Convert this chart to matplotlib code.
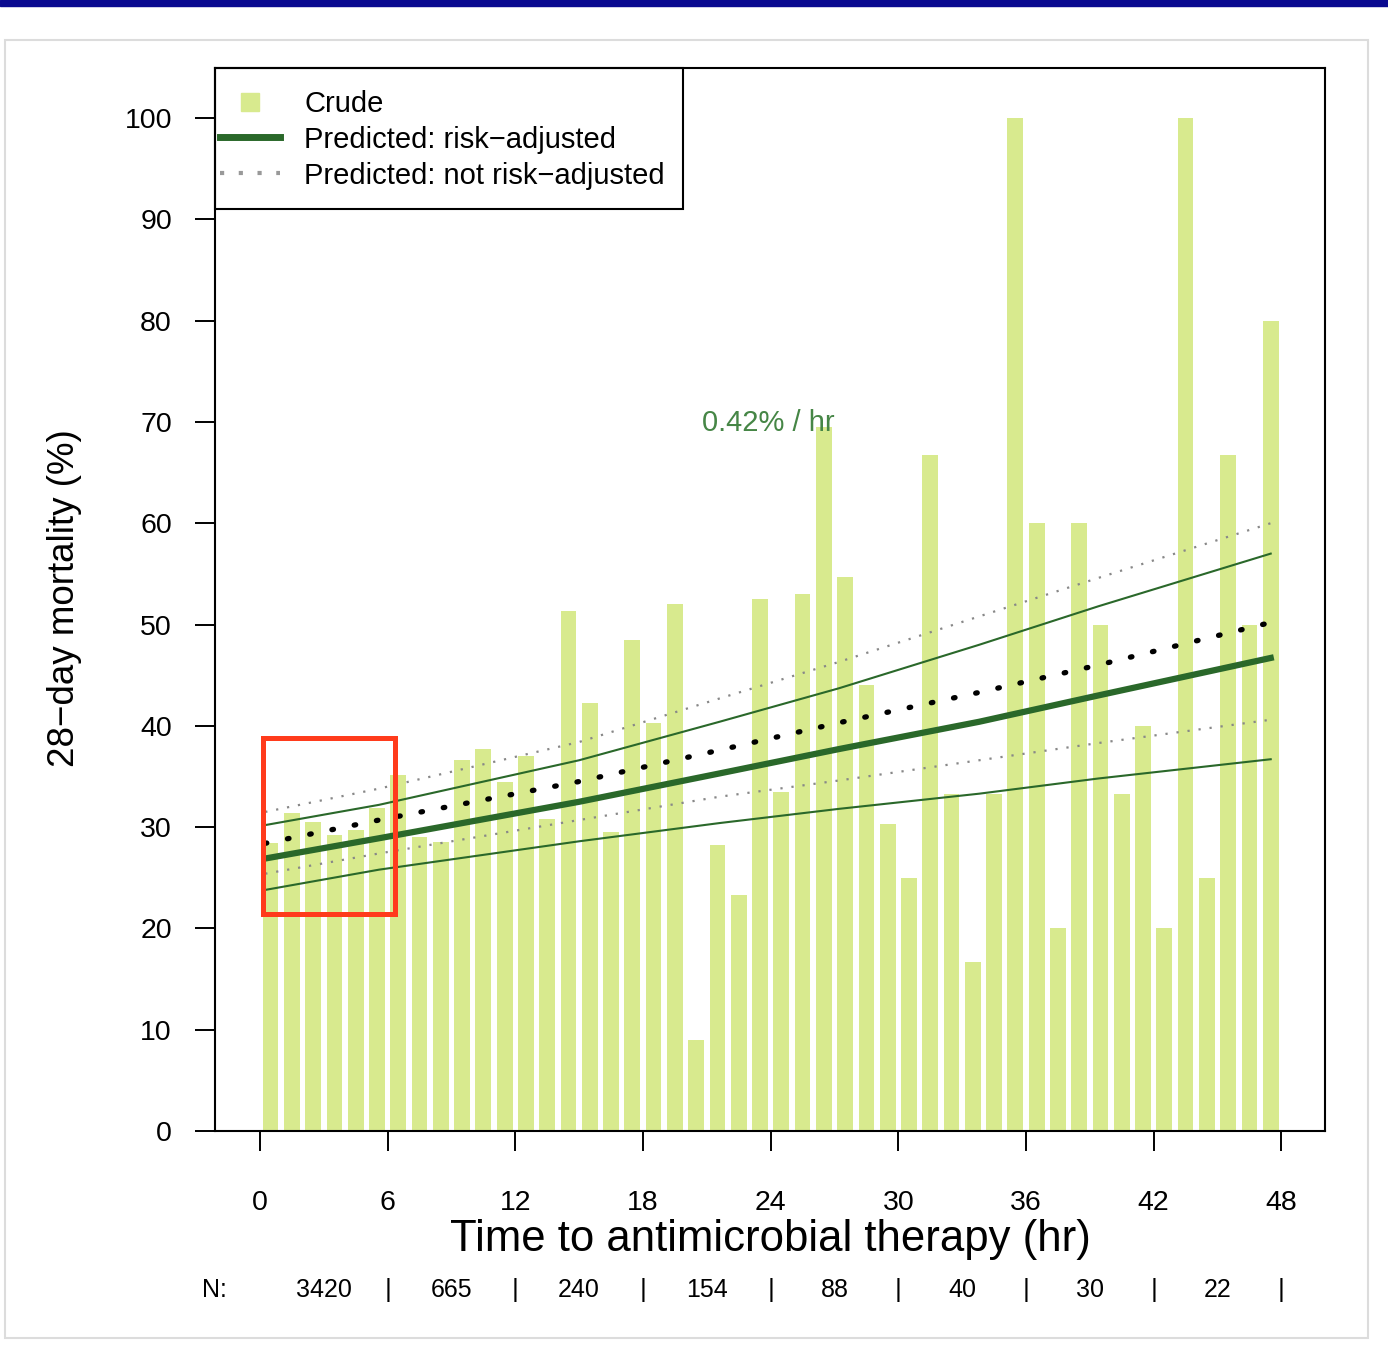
import numpy as np
import matplotlib
matplotlib.use('Agg')
import matplotlib.pyplot as plt
from matplotlib.lines import Line2D
from matplotlib.patches import Rectangle
from matplotlib.transforms import blended_transform_factory

plt.rcParams['font.family'] = ['Liberation Sans', 'DejaVu Sans']

# crude 28-day mortality (%) per 1-hour bin, 0-48 h
bin_mid = np.arange(0.5, 48, 1)
crude = [28.4, 31.4, 30.5, 29.2, 29.7, 31.9, 35.1, 29.0, 28.5, 36.6,
         37.7, 34.5, 37.0, 30.8, 51.3, 42.3, 29.5, 48.5, 40.3, 52.0,
         9.0, 28.2, 23.3, 52.5, 33.5, 53.0, 69.5, 54.7, 44.0, 30.3,
         25.0, 66.7, 33.3, 16.7, 33.3, 100.0, 60.0, 20.0, 60.0, 50.0,
         33.3, 40.0, 20.0, 100.0, 25.0, 66.7, 50.0, 80.0]

# predicted curves (read at a few hours)
fit_hours = [0.25, 5.6, 15.0, 21.6, 27.2, 33.8, 39.4, 47.5]
adj_est = [26.9, 28.9, 32.5, 35.3, 37.7, 40.4, 43.0, 46.7]
adj_lo = [23.8, 25.8, 28.6, 30.4, 31.8, 33.3, 34.8, 36.7]
adj_hi = [30.2, 32.2, 36.6, 40.4, 43.7, 48.0, 51.8, 57.0]
unadj_est = [28.4, 30.7, 34.5, 37.6, 40.3, 43.3, 46.0, 50.2]
unadj_lo = [25.4, 27.4, 30.7, 33.0, 34.6, 36.6, 38.3, 40.6]
unadj_hi = [31.5, 33.8, 38.4, 42.7, 46.3, 50.8, 54.6, 60.0]

# patients per 6-hour window
n_edges = [0, 6, 12, 18, 24, 30, 36, 42, 48]
n_counts = ['3420', '665', '240', '154', '88', '40', '30', '22']

bar_color = '#d8ea8e'
dark_green = '#2a682a'

fig = plt.figure(figsize=(13.88, 13.69), dpi=100)
ax = fig.add_axes([0.1549, 0.17385, 0.7997, 0.77648])

ax.bar(bin_mid, crude, width=0.74, color=bar_color, zorder=1)

# not risk-adjusted (dotted)
ax.plot(fit_hours, unadj_hi, color='#888888', lw=1.6, ls=(0, (1, 4)), zorder=3)
ax.plot(fit_hours, unadj_lo, color='#888888', lw=1.6, ls=(0, (1, 4)), zorder=3)
ax.plot(fit_hours, unadj_est, color='black', lw=3.8, ls=(0, (0.3, 4.0)),
        dash_capstyle='round', zorder=4)

# risk-adjusted (solid)
ax.plot(fit_hours, adj_hi, color=dark_green, lw=1.5, zorder=3)
ax.plot(fit_hours, adj_lo, color=dark_green, lw=1.5, zorder=3)
ax.plot(fit_hours, adj_est, color=dark_green, lw=4.5, zorder=4)

ax.text(23.9, 69.9, '0.42% / hr', color='#468646', fontsize=21,
        ha='center', va='center', zorder=5)

# red highlight box
ax.add_patch(Rectangle((0.14, 21.4), 6.19, 17.4, fill=False, edgecolor='#ff3b1c',
                       lw=3.6, zorder=6, clip_on=False))

ax.set_xlim(-2.11, 50.05)
ax.set_ylim(0, 104.94)
ax.set_xticks(n_edges)
ax.set_yticks(range(0, 101, 10))
ax.tick_params(axis='both', direction='out', length=14.5, width=1.4,
               labelsize=20.5, color='black')
ax.tick_params(axis='y', pad=16.5)
ax.tick_params(axis='x', pad=28)
for s in ax.spines.values():
    s.set_linewidth(1.5)

fig.text(770 / 1388, 1 - 1240 / 1369, 'Time to antimicrobial therapy (hr)',
         fontsize=31.5, ha='center', va='center')
fig.text(65 / 1388, 1 - 598 / 1369, '28\u2212day mortality (%)', fontsize=26.5,
         rotation=90, ha='center', va='center')

# N row below the axis
trans = blended_transform_factory(ax.transData, fig.transFigure)
n_y = 1 - 1290 / 1369
fig.text(214 / 1388, n_y, 'N:', fontsize=18, ha='center', va='center')
for i, lab in enumerate(n_counts):
    ax.text((n_edges[i] + n_edges[i + 1]) / 2, n_y, lab, transform=trans,
            fontsize=18, ha='center', va='center')
    ax.text(n_edges[i + 1], n_y, '|', transform=trans, fontsize=19,
            ha='center', va='center')

handles = [
    Line2D([], [], marker='s', ls='none', color=bar_color, markersize=13),
    Line2D([], [], color=dark_green, lw=5),
    Line2D([], [], color='#999999', lw=3, ls=(0, (1, 3.5))),
]
labels = ['Crude', 'Predicted: risk\u2212adjusted', 'Predicted: not risk\u2212adjusted']
leg = ax.legend(handles, labels, loc='upper left', bbox_to_anchor=(-0.001, 0.985),
                borderaxespad=0, fontsize=21, frameon=False, handlelength=2.05,
                handletextpad=0.85, labelspacing=0.27, borderpad=0.2)
# legend box drawn separately (taller than the default padding)
ax.add_patch(Rectangle((0, 1 - 141 / 1063), 468 / 1110, 141 / 1063,
                       transform=ax.transAxes, fill=False, edgecolor='black',
                       lw=1.5, zorder=7, clip_on=False))

# outer frame and top band
fig.patches.append(Rectangle((5 / 1388, 1 - 1338 / 1369), 1363 / 1388, 1298 / 1369,
                             transform=fig.transFigure, fill=False,
                             edgecolor='#dcdcdc', lw=1.5))
fig.patches.append(Rectangle((0, 1 - 6 / 1369), 1, 6 / 1369,
                             transform=fig.transFigure, color='#0a0a90'))

fig.savefig('out.png', dpi=100)
